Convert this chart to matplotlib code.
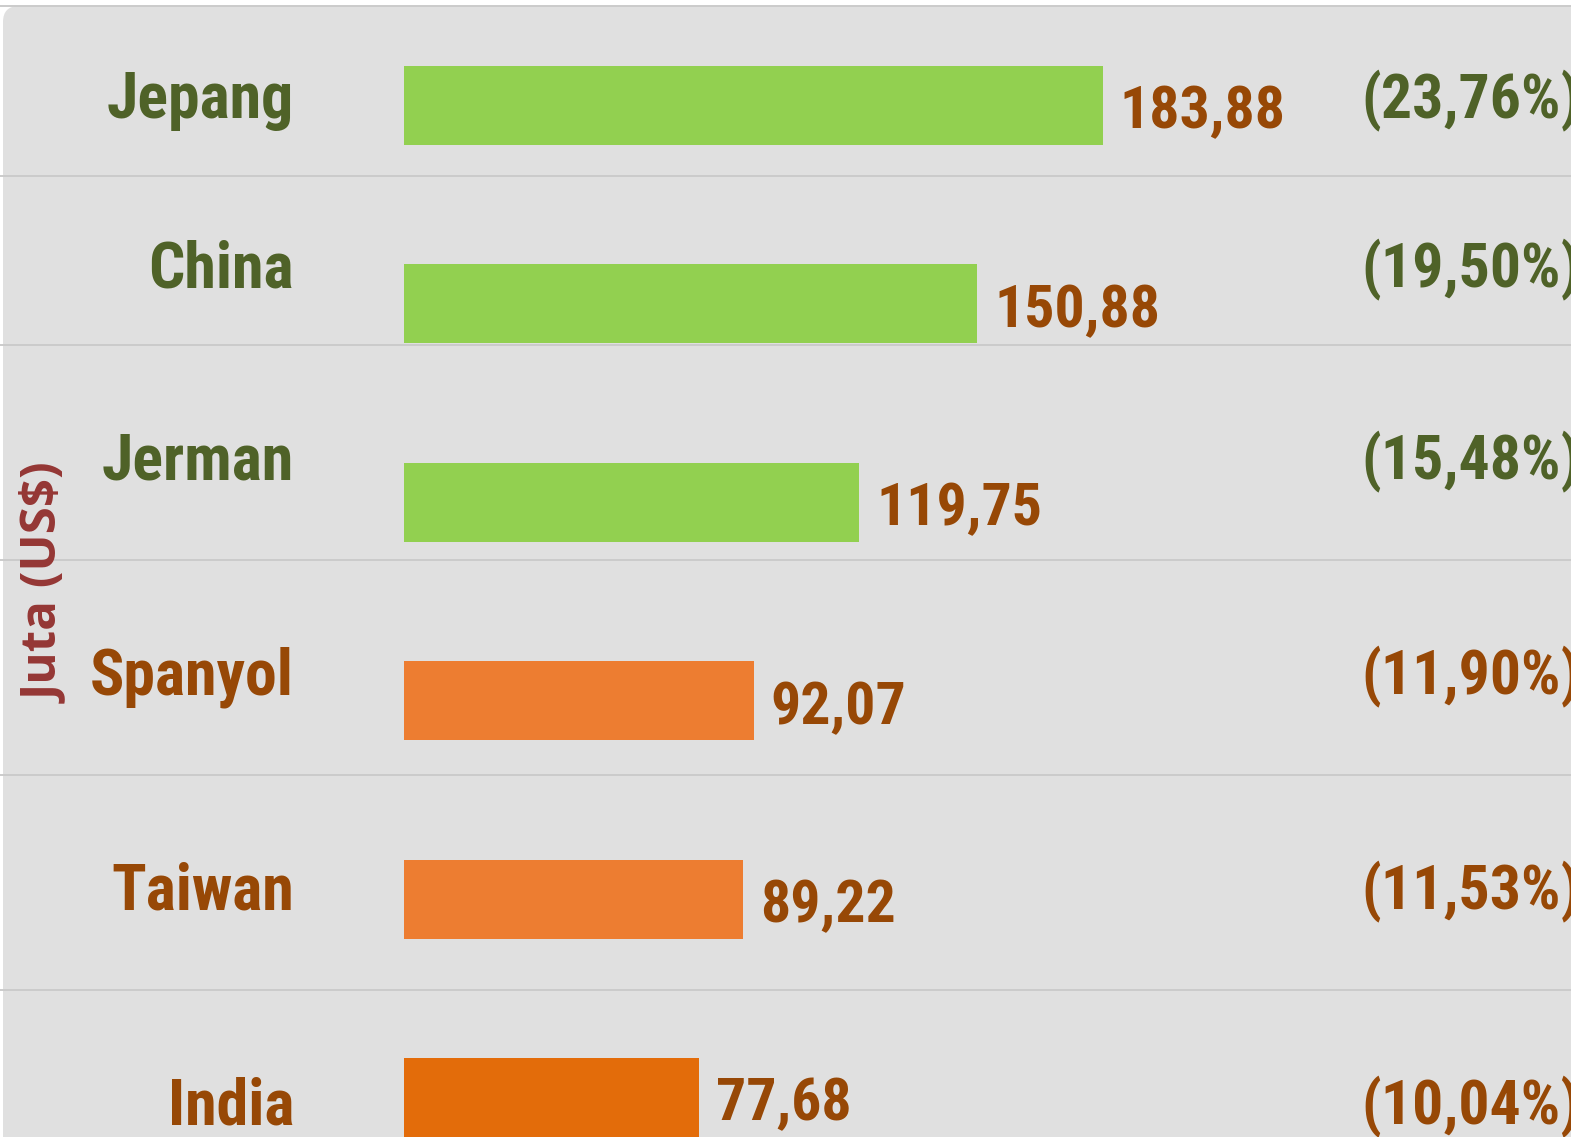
import matplotlib
matplotlib.use("Agg")
import matplotlib.pyplot as plt
from matplotlib.patches import FancyBboxPatch
from matplotlib.lines import Line2D

# ---- data ----
countries = ["Jepang", "China", "Jerman", "Spanyol", "Taiwan", "India"]
values = [183.88, 150.88, 119.75, 92.07, 89.22, 77.68]
value_labels = ["183,88", "150,88", "119,75", "92,07", "89,22", "77,68"]
pct_labels = ["(23,76%)", "(19,50%)", "(15,48%)", "(11,90%)", "(11,53%)", "(10,04%)"]
ylabel = "Juta (US$)"

# ---- style ----
W, H = 1571, 1137
DPI = 100
bg = "#E0E0E0"
grid_c = "#CBCBCB"
green_txt = "#4F6228"
brown_txt = "#974806"
bar_colors = ["#92D050", "#92D050", "#92D050", "#ED7D31", "#ED7D31", "#E36C0A"]
txt_colors = [green_txt, green_txt, green_txt, brown_txt, brown_txt, brown_txt]
narrow = ["Roboto Condensed", "PT Sans Narrow", "Liberation Sans", "DejaVu Sans"]

fig = plt.figure(figsize=(W / DPI, H / DPI), dpi=DPI)
fig.patch.set_facecolor("white")

def px_y(ytop):
    return H - ytop

# rounded panel (top-left corner visible), display pixel coords
panel = FancyBboxPatch((3, -60), W + 100, px_y(6) + 60,
                       boxstyle="round,pad=0,rounding_size=16",
                       transform=None, facecolor=bg, edgecolor="none", zorder=0)
fig.add_artist(panel)

# row separators (pixels from top)
band_edges = [6, 176, 345, 560, 775, 990, 1205]
for yy in band_edges[:-1]:
    fig.add_artist(Line2D([0, W], [px_y(yy), px_y(yy)], transform=None,
                          color=grid_c, lw=1.4, zorder=1))

# bars axis spanning the whole figure
ax = fig.add_axes([0, 0, 1, 1])
ax.set_facecolor("none")
ax.axis("off")
x0_px, px_per_unit = 404.0, 3.80
ax.set_xlim(-x0_px / px_per_unit, (W - x0_px) / px_per_unit)
c0, pitch = 105.5, 198.4
ax.set_ylim((H - c0) / pitch, -c0 / pitch)

idx = list(range(len(countries)))
ax.barh(idx, values, height=79 / pitch, color=bar_colors, zorder=2)

for i, (v, lab) in enumerate(zip(values, value_labels)):
    ax.annotate(lab, xy=(v, i), xytext=(17, -23), textcoords="offset pixels",
                ha="left", va="baseline", fontsize=43, fontweight="bold",
                family=narrow, color=brown_txt, zorder=3)

# category and percent labels, centred in bands
for i in idx:
    yc = (band_edges[i] + band_edges[i + 1]) / 2.0 + 27
    fig.text(294 / W, px_y(yc) / H, countries[i], ha="right", va="baseline",
             fontsize=46, fontweight="bold", family=narrow, color=txt_colors[i])
    fig.text(1361 / W, px_y(yc) / H, pct_labels[i], ha="left", va="baseline",
             fontsize=44.5, fontweight="bold", family=narrow, color=txt_colors[i])

fig.text(46 / W, px_y(584) / H, ylabel, rotation=90, ha="center", va="center",
         fontsize=35.5, fontweight="bold", family=["Open Sans", "DejaVu Sans"],
         color="#953735")

fig.savefig("out.png", dpi=DPI, facecolor=fig.get_facecolor())
